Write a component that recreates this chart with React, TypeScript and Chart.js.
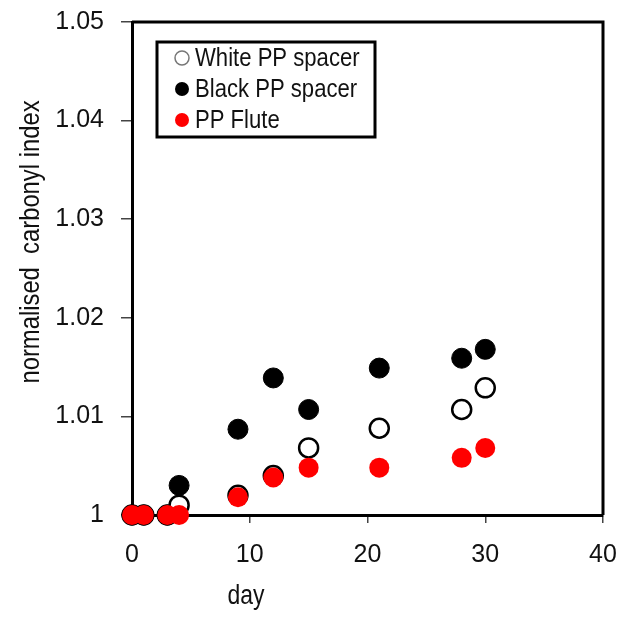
import { useEffect, useRef } from 'react';
import { Chart, registerables } from 'chart.js';

Chart.register(...registerables);

const days = [0, 1, 3, 4, 9, 12, 15, 21, 28, 30];
const whiteSpacer = [1, 1, 1, 1.001, 1.002, 1.004, 1.0068, 1.0088, 1.0107, 1.0129];
const blackSpacer = [1, 1, 1, 1.003, 1.0087, 1.0139, 1.0107, 1.0149, 1.0159, 1.0168];
const ppFlute = [1, 1, 1, 1, 1.0018, 1.0038, 1.0048, 1.0048, 1.0058, 1.0068];
const seriesLabels = ['White PP spacer', 'Black PP spacer', 'PP Flute'];
const xTitle = 'day';
const yTitle = 'normalised  carbonyl index';

const FONT = "'Liberation Sans', Arial, sans-serif";
const SX = 0.85;

const framePlugin = {
  id: 'frameAndLegend',
  beforeDatasetsDraw(chart: any) {
    const { ctx, chartArea } = chart;
    ctx.save();
    ctx.strokeStyle = '#000';
    ctx.lineWidth = 3;
    ctx.beginPath();
    ctx.moveTo(chartArea.left, chartArea.top);
    ctx.lineTo(chartArea.right, chartArea.top);
    ctx.lineTo(chartArea.right, chartArea.bottom);
    ctx.stroke();
    ctx.restore();
  },
  afterDraw(chart: any) {
    const { ctx, chartArea } = chart;
    ctx.save();
    // legend box
    const bx = chartArea.left + 25;
    const by = chartArea.top + 20;
    ctx.strokeStyle = '#000';
    ctx.lineWidth = 3;
    ctx.fillStyle = '#fff';
    ctx.fillRect(bx, by, 218, 95);
    ctx.strokeRect(bx, by, 218, 95);
    const rows = [by + 16, by + 47, by + 78];
    const styles = [
      { fill: '#fff', stroke: '#777', lw: 1.5 },
      { fill: '#000', stroke: '#000', lw: 0 },
      { fill: '#ff0000', stroke: '#ff0000', lw: 0 },
    ];
    ctx.textBaseline = 'middle';
    ctx.textAlign = 'left';
    seriesLabels.forEach((lab, i) => {
      const s = styles[i];
      ctx.beginPath();
      ctx.arc(bx + 25, rows[i], 7, 0, Math.PI * 2);
      ctx.fillStyle = s.fill;
      ctx.fill();
      if (s.lw > 0) {
        ctx.lineWidth = s.lw;
        ctx.strokeStyle = s.stroke;
        ctx.stroke();
      }
      ctx.save();
      ctx.translate(bx + 38, rows[i] + 1);
      ctx.scale(SX, 1);
      ctx.font = `26px ${FONT}`;
      ctx.fillStyle = '#111';
      ctx.fillText(lab, 0, 0);
      ctx.restore();
    });
    // axis titles
    ctx.fillStyle = '#111';
    ctx.textAlign = 'center';
    ctx.textBaseline = 'middle';
    ctx.save();
    ctx.translate(246, 597);
    ctx.scale(SX, 1);
    ctx.font = `27px ${FONT}`;
    ctx.fillText(xTitle, 0, 0);
    ctx.restore();
    ctx.save();
    ctx.translate(31, 242);
    ctx.rotate(-Math.PI / 2);
    ctx.scale(SX, 1);
    ctx.font = `28px ${FONT}`;
    ctx.fillText(yTitle, 0, 0);
    ctx.restore();
    ctx.restore();
  },
};

export default function App() {
  const ref = useRef<HTMLCanvasElement>(null);
  useEffect(() => {
    if (!ref.current) return;
    const mk = (arr: number[]) => days.map((d, i) => ({ x: d, y: arr[i] }));
    const chart = new Chart(ref.current, {
      type: 'scatter',
      data: {
        datasets: [
          {
            label: seriesLabels[0],
            data: mk(whiteSpacer),
            backgroundColor: '#fff',
            borderColor: '#000',
            borderWidth: 2.5,
            pointRadius: 9.5,
            order: 1,
            clip: false,
          } as any,
          {
            label: seriesLabels[1],
            data: mk(blackSpacer),
            backgroundColor: '#000',
            borderColor: '#000',
            borderWidth: 1,
            pointRadius: 10,
            order: 2,
            clip: false,
          },
          {
            label: seriesLabels[2],
            data: mk(ppFlute),
            backgroundColor: '#ff0000',
            borderColor: '#ff0000',
            borderWidth: 0,
            pointRadius: 10,
            order: 0,
            clip: false,
          },
        ],
      },
      options: {
        animation: false,
        responsive: true,
        maintainAspectRatio: false,
        layout: { padding: { top: 22, right: 16, left: 0, bottom: 0 } },
        plugins: { legend: { display: false }, tooltip: { enabled: false } },
        scales: {
          x: {
            type: 'linear',
            min: 0,
            max: 40,
            ticks: { stepSize: 10, color: '#111', font: { family: FONT, size: 25 }, padding: 17 },
            grid: { drawOnChartArea: false, drawTicks: true, tickLength: 8, color: '#444', lineWidth: 1.5 },
            border: { display: true, color: '#000', width: 3 },
            afterFit: (s: any) => { s.height = 102; s.paddingLeft = 0; s.paddingRight = 0; },
          },
          y: {
            type: 'linear',
            min: 1,
            max: 1.05,
            ticks: {
              stepSize: 0.01,
              color: '#111',
              font: { family: FONT, size: 25 },
              padding: 17,
              callback: (v: any) => String(Number(Number(v).toFixed(2))),
            },
            grid: { drawOnChartArea: false, drawTicks: true, tickLength: 11, color: '#444', lineWidth: 1.5 },
            border: { display: true, color: '#000', width: 3 },
            afterFit: (s: any) => { s.width = 132; s.paddingTop = 0; s.paddingBottom = 0; },
          },
        },
      },
      plugins: [framePlugin],
    });
    return () => chart.destroy();
  }, []);
  return (
    <div style={{ position: 'fixed', left: 0, top: 0, width: 619, height: 617, background: '#fff' }}>
      <canvas ref={ref} />
    </div>
  );
}
